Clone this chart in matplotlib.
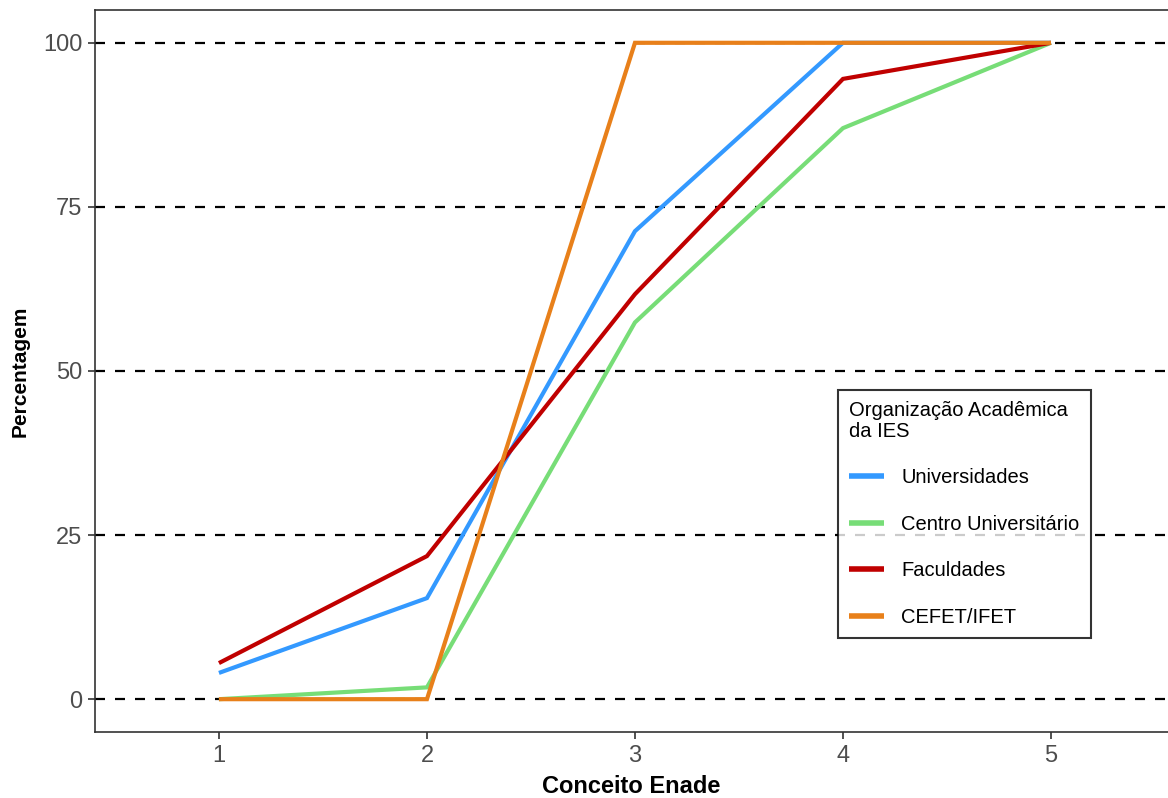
import matplotlib.pyplot as plt

plt.rcParams['font.family'] = ['Liberation Sans', 'DejaVu Sans']

# Data
conceito = [1, 2, 3, 4, 5]
universidades = [4.0, 15.4, 71.3, 100, 100]
centro_univ = [0, 1.8, 57.4, 87.0, 100]
faculdades = [5.5, 21.8, 61.7, 94.5, 100]
cefet_ifet = [0, 0, 100, 100, 100]

series = [
    ('Universidades', universidades, '#3399ff'),
    ('Centro Universitário', centro_univ, '#77dd77'),
    ('Faculdades', faculdades, '#c00000'),
    ('CEFET/IFET', cefet_ifet, '#e8801a'),
]
y_ticks = [0, 25, 50, 75, 100]

fig = plt.figure(figsize=(11.68, 7.98), dpi=100)
ax = fig.add_axes([0.0813, 0.0827, 0.9187, 0.9048])

# dashed horizontal reference lines
for yv in y_ticks:
    ax.axhline(yv, color='black', lw=1.6, ls=(0, (4.5, 4.5)), zorder=1)

for name, vals, col in series:
    ax.plot(conceito, vals, color=col, lw=3, label=name, zorder=3,
            solid_joinstyle='miter', solid_capstyle='butt')

ax.set_xlim(0.404, 5.5625)
ax.set_ylim(-5, 105)
ax.set_xticks(conceito)
ax.set_yticks(y_ticks)
ax.tick_params(axis='both', labelsize=17, labelcolor='#4d4d4d',
               color='#333333', length=5, width=1.2, pad=4)

for s in ['left', 'top', 'bottom']:
    ax.spines[s].set_color('#333333')
    ax.spines[s].set_linewidth(1.2)
ax.spines['right'].set_visible(False)

ax.set_xlabel('Conceito Enade', fontsize=17, fontweight='bold', labelpad=6)
ax.set_ylabel('Percentagem', fontsize=15, fontweight='bold', labelpad=10)

leg = ax.legend(title='Organização Acadêmica\nda IES', loc='upper left',
                bbox_to_anchor=(0.6925, 0.4737), borderaxespad=0,
                fontsize=14.5, title_fontsize=14.5, frameon=True, fancybox=False,
                edgecolor='black', handlelength=1.75, labelspacing=1.37,
                handletextpad=0.85, borderpad=0.55, alignment='left')
leg.get_frame().set_linewidth(1.5)
leg.get_title().set_linespacing(1.1)
for h in leg.get_lines():
    h.set_linewidth(4)

fig.savefig('out.png', dpi=100)
